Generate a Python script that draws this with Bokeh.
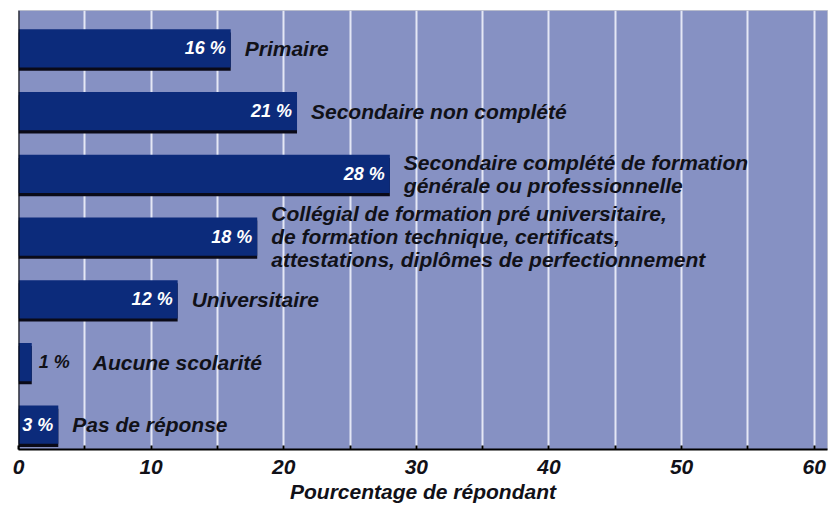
from bokeh.plotting import figure
from bokeh.models import FactorRange, Range1d, Span, SingleIntervalTicker, ColumnDataSource
from bokeh.transform import dodge
from bokeh.core.properties import value
from bokeh.embed import file_html
from bokeh.resources import INLINE

categories = [
    "Primaire",
    "Secondaire non complété",
    "Secondaire complété de formation\ngénérale ou professionnelle",
    "Collégial de formation pré universitaire,\nde formation technique, certificats,\nattestations, diplômes de perfectionnement",
    "Universitaire",
    "Aucune scolarité",
    "Pas de réponse",
]
percentages = [16, 21, 28, 18, 12, 1, 3]
x_title = "Pourcentage de répondant"

FONT = value("Liberation Sans")
BAR = "#0c2b7b"
BG = "#8691c3"
INK = "#111118"

inside = [v >= 3 for v in percentages]
src = ColumnDataSource(dict(
    cat=categories,
    val=percentages,
    vtext=[f"{v} %" for v in percentages],
    vcol=["white" if i else INK for i in inside],
    valign=["right" if i else "left" for i in inside],
    voff=[-5 if i else 7 for i in inside],
    loff=[14 if i else 61 for i in inside],
))

p = figure(
    y_range=FactorRange(factors=list(reversed(categories)), range_padding=0),
    x_range=Range1d(0, 61),
    frame_width=809, frame_height=439,
    min_border_left=18, min_border_top=10, min_border_right=3, min_border_bottom=0,
    output_backend="svg", toolbar_location=None,
    background_fill_color=BG, border_fill_color="white",
)
p.outline_line_color = "#b8bccc"
p.outline_line_width = 1

p.ygrid.visible = False
p.xgrid.ticker = SingleIntervalTicker(interval=5)
p.xgrid.grid_line_color = "#e4e7f5"
p.xgrid.grid_line_width = 2

p.yaxis.visible = False
ax = p.xaxis[0]
ax.ticker = SingleIntervalTicker(interval=5)
ax.major_label_overrides = {t: "" for t in range(5, 65, 10)}
ax.minor_tick_line_color = None
ax.major_tick_in = 4
ax.major_tick_out = 0
ax.major_tick_line_color = "black"
ax.major_tick_line_width = 2
ax.axis_line_color = "black"
ax.axis_line_width = 2
ax.major_label_standoff = 6
ax.major_label_text_font = "Liberation Sans"
ax.major_label_text_font_style = "bold italic"
ax.major_label_text_font_size = "21px"
ax.major_label_text_color = INK
ax.axis_label = x_title
ax.axis_label_standoff = 3
ax.axis_label_text_font = "Liberation Sans"
ax.axis_label_text_font_style = "bold italic"
ax.axis_label_text_font_size = "21px"
ax.axis_label_text_color = INK

off = -0.105
# shadow
p.hbar(y=dodge("cat", off - 0.05, range=p.y_range), right="val", left=0, height=0.61,
       source=src, fill_color="#0a0a18", line_color=None)
p.hbar(y=dodge("cat", off, range=p.y_range), right="val", left=0, height=0.61,
       source=src, fill_color=BAR, line_color=None)

p.add_layout(Span(location=0, dimension="height", line_color="black", line_width=2))

p.text(x="val", y=dodge("cat", off, range=p.y_range), text="vtext", source=src,
       text_color="vcol", text_align="valign", x_offset="voff", text_baseline="middle",
       text_font=FONT, text_font_style="bold italic", text_font_size="18px")
p.text(x="val", y=dodge("cat", off, range=p.y_range), text="cat", source=src,
       text_color=INK, text_align="left", x_offset="loff", text_baseline="middle",
       text_font=FONT, text_font_style="bold italic", text_font_size="21px",
       text_line_height=1.0)

open("out.html", "w").write(file_html(p, INLINE))
